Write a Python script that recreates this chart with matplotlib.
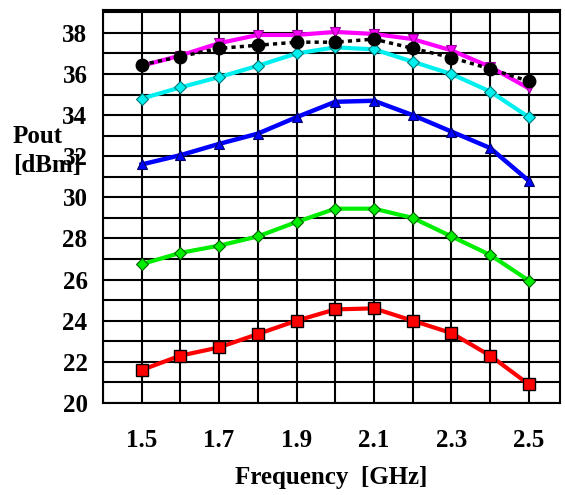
import matplotlib
matplotlib.use("Agg")
import matplotlib.pyplot as plt
from matplotlib.ticker import MultipleLocator

# frequency points [GHz]
freq = [1.5, 1.6, 1.7, 1.8, 1.9, 2.0, 2.1, 2.2, 2.3, 2.4, 2.5]

# Pout [dBm] per curve
p_red = [21.6, 22.3, 22.7, 23.35, 24.0, 24.55, 24.6, 24.0, 23.4, 22.3, 20.9]
p_green = [26.75, 27.3, 27.65, 28.1, 28.8, 29.45, 29.45, 29.0, 28.1, 27.2, 25.95]
p_blue = [31.6, 32.05, 32.6, 33.1, 33.9, 34.65, 34.7, 34.0, 33.2, 32.4, 30.8]
p_cyan = [34.8, 35.35, 35.85, 36.4, 37.0, 37.3, 37.2, 36.6, 36.0, 35.15, 33.9]
p_magenta = [36.4, 36.9, 37.5, 37.9, 37.9, 38.05, 37.95, 37.7, 37.15, 36.35, 35.3]
p_black = [36.45, 36.85, 37.25, 37.4, 37.55, 37.55, 37.7, 37.25, 36.8, 36.25, 35.65]

xticks = [1.5, 1.7, 1.9, 2.1, 2.3, 2.5]
yticks = [20, 22, 24, 26, 28, 30, 32, 34, 36, 38]

plt.rcParams["font.family"] = ["Liberation Serif", "DejaVu Serif"]
plt.rcParams["font.weight"] = "bold"

fig = plt.figure(figsize=(5.65, 4.95), dpi=100)
ax = fig.add_axes([0.182, 0.186, 0.809, 0.794])

ax.plot(freq, p_red, color="#ff0000", lw=3, marker="s", ms=8, mec="black", mew=1, zorder=3)
ax.plot(freq, p_green, color="#00ee00", lw=3, marker="D", ms=6, mec="#006600", mew=0.8, zorder=3)
ax.plot(freq, p_blue, color="#0000ff", lw=3.2, marker="^", ms=7, mec="#000066", mew=0.8, zorder=3)
ax.plot(freq, p_cyan, color="#00f0f0", lw=3, marker="D", ms=6, mec="#007777", mew=0.8, zorder=3)
ax.plot(freq, p_magenta, color="#ff00ff", lw=3, marker="v", ms=7, mec="#990099", mew=0.8, zorder=3)
ax.plot(freq, p_black, color="black", lw=2.5, ls=(0, (1.2, 1.2)), marker="o", ms=9, zorder=4)

ax.set_xlim(1.4, 2.58)
ax.set_ylim(20, 39.12)
ax.set_xticks(xticks)
ax.set_xticklabels([f"{v:.1f}" for v in xticks])
ax.set_yticks(yticks)
ax.xaxis.set_minor_locator(MultipleLocator(0.1))
ax.yaxis.set_minor_locator(MultipleLocator(1))
ax.grid(which="both", color="black", lw=1.5)
ax.set_axisbelow(True)
ax.tick_params(which="both", length=0)
ax.tick_params(axis="x", pad=19, labelsize=18)
ax.tick_params(axis="y", pad=11, labelsize=18)
for s in ax.spines.values():
    s.set_linewidth(1.5)

ax.set_xlabel("Frequency  [GHz]", fontsize=18, fontweight="bold", labelpad=10)
# the reference lets this label run into the 34/32 tick labels
fig.text(0.023, 0.695, "Pout\n[dBm]", fontsize=18, fontweight="bold",
         ha="left", va="center", linespacing=1.3)

fig.savefig("out.png", dpi=100)
